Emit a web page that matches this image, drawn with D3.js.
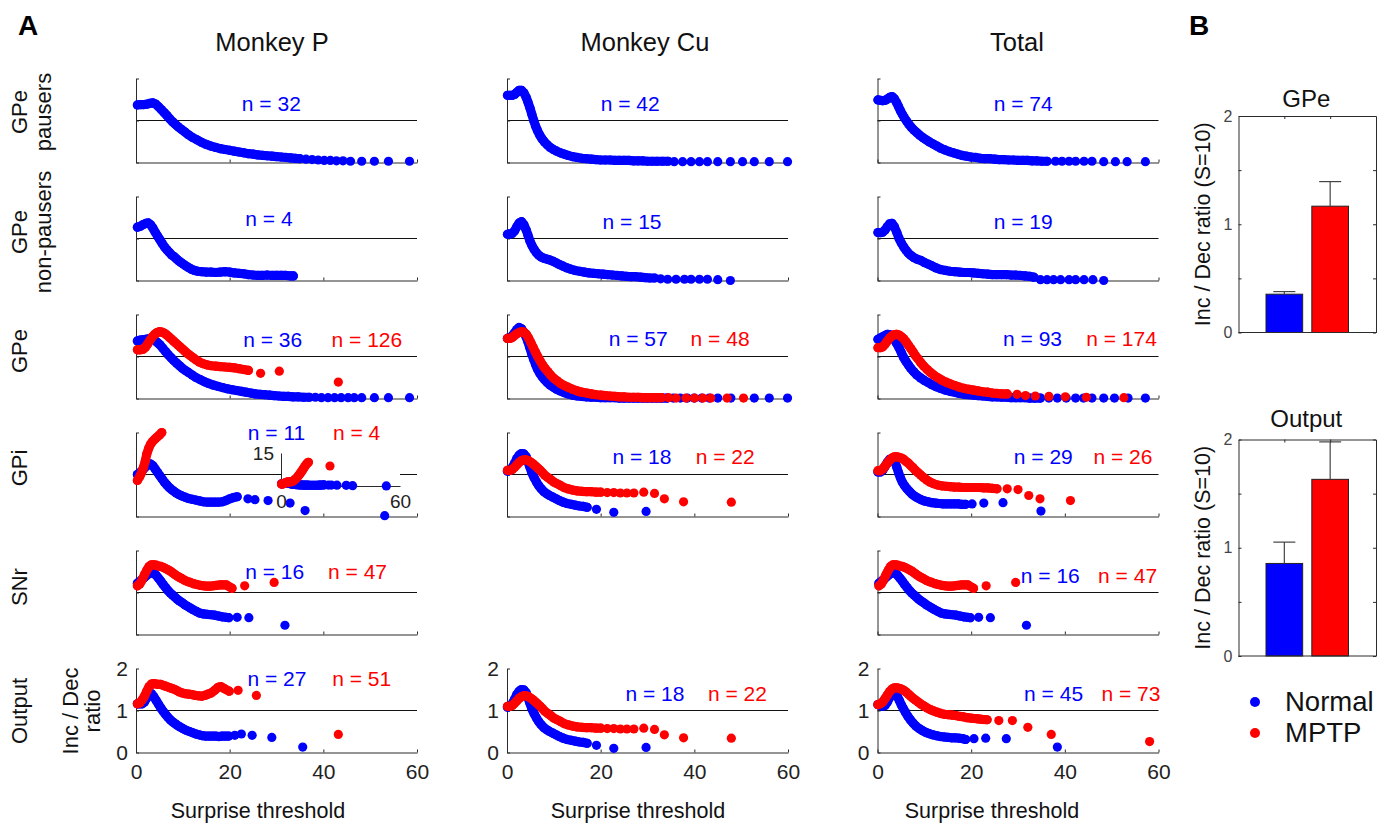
<!DOCTYPE html>
<html>
<head>
<meta charset="utf-8">
<script src="https://cdn.jsdelivr.net/npm/d3@7"></script>
<style>
  body { margin: 0; background: #fff; }
  text { font-family: "Liberation Sans", Arial, Helvetica, sans-serif; }
</style>
</head>
<body>
<svg id="fig" width="1393" height="827"></svg>
<script>
// ---- labels ----
const columnTitles = ["Monkey P", "Monkey Cu", "Total"];
const rowLabels = [["GPe", "pausers"], ["GPe", "non-pausers"], ["GPe"], ["GPi"], ["SNr"], ["Output"]];
const xTicks = [0, 20, 40, 60];
const yTicks = [0, 1, 2];
const groups = ["Normal", "MPTP"];

// ---- panel A series: [surprise threshold, inc/dec ratio] ----
const pPausersNormal = [[0.3,1.37],[1,1.38],[1.7,1.38],[2.4,1.39],[3,1.41],[3.6,1.42],[4.2,1.39],[4.8,1.33],[5.4,1.26],[6,1.19],[6.6,1.12],[7.2,1.04],[7.8,0.97],[8.4,0.91],[9,0.85],[9.7,0.79],[10.4,0.73],[11.2,0.66],[12,0.6],[13,0.54],[14,0.48],[15,0.43],[16,0.39],[17,0.36],[18,0.33],[19,0.31],[20,0.29],[21,0.27],[22,0.25],[23,0.23],[24,0.21],[25,0.2],[26,0.18],[27,0.17],[28,0.16],[29,0.15],[30,0.14],[31,0.13],[32,0.12],[33,0.11],[34,0.1],[35,0.09],[36.3,0.08],[37.6,0.07],[38.9,0.06],[40.2,0.05],[41.5,0.05],[42.8,0.04],[44.2,0.04],[45.8,0.03],[48.2,0.03],[50.9,0.03],[53.9,0.03],[58.4,0.03]];
const pNonPausersNormal = [[0.3,1.27],[0.9,1.29],[1.5,1.33],[2.1,1.36],[2.6,1.37],[3.1,1.33],[3.6,1.25],[4.1,1.15],[4.6,1.06],[5.1,0.97],[5.6,0.88],[6.1,0.8],[6.6,0.73],[7.1,0.67],[7.6,0.61],[8.1,0.57],[8.6,0.52],[9.1,0.47],[9.6,0.43],[10.1,0.39],[10.6,0.35],[11.2,0.31],[11.8,0.27],[12.5,0.24],[13.2,0.22],[14,0.21],[15,0.2],[16,0.2],[17,0.19],[18,0.2],[19,0.21],[20,0.2],[21,0.18],[22,0.17],[23,0.16],[24,0.14],[25,0.13],[26,0.12],[27,0.12],[28,0.13],[29,0.12],[30,0.12],[31,0.12],[32,0.12],[33,0.11],[33.6,0.11]];
const pGPeNormal = [[0.3,1.37],[0.9,1.39],[1.5,1.4],[2.1,1.41],[2.7,1.42],[3.3,1.42],[3.9,1.39],[4.5,1.34],[5.1,1.28],[5.7,1.2],[6.3,1.12],[6.9,1.04],[7.5,0.97],[8.1,0.9],[8.7,0.84],[9.3,0.78],[9.9,0.72],[10.5,0.67],[11.2,0.62],[12,0.56],[12.8,0.5],[13.7,0.45],[14.6,0.4],[15.5,0.36],[16.5,0.32],[17.5,0.29],[18.5,0.26],[19.5,0.23],[20.5,0.21],[21.5,0.19],[22.5,0.17],[23.5,0.15],[24.5,0.13],[25.5,0.11],[26.5,0.1],[27.5,0.09],[28.5,0.08],[29.5,0.07],[30.5,0.06],[31.5,0.05],[32.5,0.05],[33.5,0.04],[34.6,0.04],[35.8,0.03],[37,0.03],[38.3,0.03],[39.6,0.02],[41,0.02],[42.4,0.02],[43.8,0.02],[45.3,0.02],[46.6,0.02],[48.2,0.02],[50.9,0.02],[53.9,0.02],[58.4,0.02]];
const pGPeMPTP = [[0.3,1.16],[0.9,1.16],[1.5,1.17],[2,1.22],[2.5,1.3],[3,1.39],[3.5,1.47],[4,1.53],[4.5,1.57],[5,1.59],[5.5,1.58],[6,1.56],[6.5,1.52],[7,1.47],[7.5,1.42],[8,1.37],[8.5,1.32],[9,1.27],[9.5,1.22],[10,1.17],[10.5,1.12],[11,1.07],[11.6,1.02],[12.2,0.97],[12.8,0.92],[13.5,0.87],[14.3,0.83],[15.2,0.8],[16.1,0.78],[17,0.77],[18,0.76],[19,0.75],[20,0.74],[21,0.73],[22,0.71],[23,0.69],[24,0.67],[26.6,0.6],[30.6,0.65],[43.2,0.39]];
const pGPiNormal = [[0.3,1.0],[0.9,1.05],[1.5,1.12],[2.1,1.19],[2.6,1.23],[3.1,1.25],[3.6,1.21],[4.1,1.13],[4.6,1.05],[5.1,0.97],[5.6,0.89],[6.1,0.81],[6.6,0.75],[7.1,0.69],[7.6,0.64],[8.1,0.6],[8.6,0.56],[9.2,0.52],[9.8,0.49],[10.5,0.46],[11.2,0.43],[12,0.41],[12.8,0.39],[13.6,0.37],[14.4,0.35],[15.2,0.34],[16,0.34],[16.8,0.34],[17.6,0.34],[18.4,0.35],[19.2,0.38],[20,0.42],[20.8,0.45],[21.6,0.47],[23.9,0.42],[25.4,0.4],[28.2,0.38],[32.9,0.32],[36.1,0.14],[53.1,0.02]];
const pGPiMPTP = [[0.3,0.86],[0.8,0.95],[1.2,1.05],[1.6,1.17],[2,1.33],[2.3,1.49],[2.7,1.62],[3.1,1.72],[3.5,1.78],[4,1.84],[4.5,1.89],[5,1.94],[5.5,2.0],[6.2,2.3],[6.9,2.8],[7.6,3.4],[8.3,4.1],[9,4.9],[9.7,5.7],[10.4,6.6],[11.1,7.6],[11.8,8.6],[12.5,9.5],[13.2,10.3],[13.8,10.8],[24.7,9.1]];
const pSNrNormal = [[0.3,1.22],[0.8,1.26],[1.3,1.31],[1.8,1.36],[2.3,1.41],[2.8,1.45],[3.3,1.47],[3.8,1.46],[4.3,1.41],[4.8,1.34],[5.3,1.27],[5.8,1.19],[6.3,1.12],[6.8,1.05],[7.3,0.99],[7.8,0.94],[8.3,0.89],[8.8,0.84],[9.3,0.8],[9.8,0.76],[10.4,0.71],[11,0.67],[11.6,0.63],[12.2,0.59],[12.9,0.55],[13.6,0.51],[14.4,0.49],[15.2,0.48],[16,0.47],[16.8,0.46],[17.6,0.44],[18.4,0.42],[19.2,0.41],[19.8,0.4],[21.6,0.41],[24.1,0.4],[31.8,0.22]];
const pSNrMPTP = [[0.3,1.16],[0.8,1.2],[1.3,1.3],[1.8,1.42],[2.3,1.53],[2.8,1.62],[3.3,1.66],[3.8,1.66],[4.3,1.65],[4.8,1.63],[5.3,1.62],[5.8,1.6],[6.3,1.57],[6.8,1.54],[7.3,1.51],[7.8,1.47],[8.3,1.43],[8.8,1.39],[9.3,1.36],[9.8,1.33],[10.4,1.29],[11,1.26],[11.6,1.24],[12.3,1.21],[13,1.19],[13.7,1.17],[14.4,1.16],[15.1,1.15],[15.8,1.15],[16.5,1.16],[17.2,1.17],[17.9,1.18],[18.6,1.18],[19.3,1.18],[20.5,1.1],[23.2,1.16],[29.5,1.24]];
const pOutputNormal = [[0.3,1.16],[0.8,1.16],[1.3,1.16],[1.8,1.2],[2.3,1.3],[2.8,1.37],[3.3,1.4],[3.8,1.33],[4.3,1.24],[4.8,1.15],[5.3,1.06],[5.8,0.98],[6.3,0.91],[6.8,0.84],[7.3,0.78],[7.8,0.73],[8.3,0.69],[8.8,0.65],[9.4,0.61],[10,0.57],[10.7,0.53],[11.4,0.5],[12.1,0.47],[12.8,0.44],[13.5,0.42],[14.2,0.4],[14.9,0.39],[15.6,0.39],[16.3,0.39],[17,0.39],[17.7,0.38],[18.4,0.39],[19.1,0.39],[19.8,0.39],[21.1,0.41],[22.5,0.44],[24.8,0.41],[29,0.36],[35.6,0.13]];
const pOutputMPTP = [[0.3,1.16],[0.8,1.18],[1.3,1.25],[1.8,1.34],[2.3,1.46],[2.8,1.57],[3.3,1.63],[3.8,1.64],[4.3,1.63],[4.8,1.62],[5.3,1.62],[5.8,1.6],[6.3,1.58],[6.8,1.56],[7.3,1.54],[7.8,1.52],[8.3,1.5],[8.8,1.47],[9.3,1.44],[9.8,1.42],[10.5,1.4],[11.2,1.39],[11.9,1.38],[12.6,1.36],[13.3,1.35],[14,1.34],[14.7,1.36],[15.4,1.39],[16.1,1.42],[16.8,1.48],[17.5,1.55],[18.1,1.57],[18.9,1.52],[19.9,1.46],[21.8,1.48],[25.7,1.36],[43.2,0.43]];

const cuPausersNormal = [[0.1,1.6],[0.6,1.6],[1.1,1.6],[1.6,1.62],[2.1,1.67],[2.6,1.72],[3.1,1.72],[3.6,1.66],[4.1,1.55],[4.5,1.43],[4.9,1.3],[5.3,1.15],[5.7,1.0],[6.1,0.87],[6.5,0.76],[7,0.65],[7.5,0.56],[8,0.49],[8.6,0.42],[9.2,0.36],[9.9,0.31],[10.6,0.27],[11.4,0.23],[12.2,0.2],[13,0.17],[14,0.14],[15,0.12],[16,0.1],[17,0.09],[18,0.08],[19,0.07],[20,0.06],[21,0.06],[22,0.06],[23,0.05],[24,0.05],[25,0.05],[26,0.05],[27,0.04],[28,0.04],[29,0.04],[30,0.03],[31,0.03],[32,0.03],[33.2,0.03],[34.4,0.03],[35.7,0.02],[37.5,0.02],[39.3,0.02],[41.1,0.02],[42.8,0.02],[45,0.02],[47.7,0.02],[50.3,0.02],[52.8,0.02],[56,0.02],[59.9,0.02]];
const cuNonPausersNormal = [[0.1,1.1],[0.6,1.11],[1.1,1.12],[1.6,1.18],[2.1,1.28],[2.6,1.37],[3.1,1.4],[3.6,1.33],[4.1,1.2],[4.5,1.07],[4.9,0.94],[5.3,0.84],[5.8,0.74],[6.3,0.66],[6.8,0.6],[7.3,0.56],[7.9,0.53],[8.5,0.51],[9.1,0.49],[9.8,0.46],[10.5,0.42],[11.2,0.38],[12,0.34],[12.8,0.3],[13.6,0.27],[14.5,0.24],[15.5,0.22],[16.5,0.2],[17.5,0.18],[18.5,0.17],[19.5,0.16],[20.5,0.15],[21.5,0.14],[22.5,0.13],[23.5,0.12],[24.5,0.11],[25.5,0.1],[26.5,0.09],[27.5,0.09],[28.5,0.08],[29.5,0.07],[30.5,0.06],[31.5,0.06],[32.8,0.04],[34.3,0.03],[36.1,0.03],[37.9,0.03],[39.3,0.03],[41.1,0.03],[42.8,0.03],[45,0.02],[47.7,0.0]];
const cuGPeNormal = [[0.1,1.43],[0.6,1.45],[1.1,1.49],[1.6,1.56],[2.1,1.64],[2.6,1.69],[3.1,1.66],[3.6,1.58],[4.1,1.46],[4.5,1.34],[4.9,1.2],[5.3,1.06],[5.7,0.93],[6.1,0.81],[6.5,0.7],[7,0.6],[7.5,0.52],[8,0.45],[8.6,0.38],[9.2,0.32],[9.9,0.27],[10.6,0.22],[11.4,0.18],[12.2,0.14],[13,0.11],[14,0.08],[15,0.06],[16,0.05],[17,0.04],[18,0.03],[19,0.03],[20,0.02],[21,0.02],[22,0.02],[23,0.02],[24,0.01],[25,0.01],[26,0.01],[27,0.01],[28,0.01],[29,0.01],[30,0.01],[31,0.01],[32,0.01],[33,0.01],[34.2,0.01],[35.5,0.01],[37,0.01],[38.5,0.01],[40,0.01],[41.6,0.01],[43.2,0.01],[45,0.01],[47.8,0.01],[52.8,0.01],[56,0.01],[59.9,0.01]];
const cuGPeMPTP = [[0.1,1.43],[0.6,1.43],[1.1,1.45],[1.6,1.5],[2.1,1.54],[2.6,1.57],[3.1,1.59],[3.6,1.58],[4.1,1.53],[4.6,1.44],[5.1,1.33],[5.6,1.21],[6.1,1.1],[6.6,0.99],[7.1,0.89],[7.6,0.8],[8.1,0.72],[8.7,0.64],[9.3,0.56],[10,0.48],[10.7,0.42],[11.4,0.36],[12.2,0.31],[13,0.27],[14,0.22],[15,0.18],[16,0.15],[17,0.13],[18,0.11],[19,0.09],[20,0.08],[21,0.07],[22,0.06],[23,0.05],[24,0.04],[25,0.04],[26,0.03],[27,0.03],[28,0.03],[29,0.02],[30,0.02],[31,0.02],[32,0.02],[33,0.02],[34.5,0.02],[36.1,0.01],[38.2,0.01],[40,0.01],[41.8,0.01],[43.5,0.01],[47,0.01],[50.5,0.01]];
const cuGPiNormal = [[0.1,1.08],[0.6,1.1],[1.1,1.16],[1.6,1.26],[2.1,1.38],[2.6,1.46],[3.1,1.5],[3.6,1.49],[4.1,1.42],[4.5,1.3],[4.9,1.17],[5.3,1.04],[5.8,0.92],[6.3,0.82],[6.8,0.73],[7.3,0.66],[7.9,0.59],[8.5,0.54],[9.1,0.5],[9.8,0.46],[10.5,0.42],[11.2,0.38],[12,0.34],[12.8,0.31],[13.7,0.29],[14.6,0.27],[15.5,0.25],[16.3,0.24],[17.1,0.22],[19.1,0.17],[22.8,0.1],[29.7,0.12]];
const cuGPiMPTP = [[0.1,1.1],[0.6,1.1],[1.1,1.12],[1.6,1.17],[2.1,1.23],[2.6,1.29],[3.1,1.33],[3.6,1.35],[4.1,1.35],[4.6,1.33],[5.1,1.29],[5.6,1.25],[6.1,1.2],[6.6,1.15],[7.1,1.1],[7.6,1.04],[8.1,0.98],[8.7,0.93],[9.3,0.88],[10,0.82],[10.7,0.78],[11.4,0.74],[12.2,0.69],[13,0.66],[14,0.63],[15,0.61],[16,0.6],[17,0.59],[18,0.59],[19,0.58],[20,0.58],[21.4,0.57],[22.8,0.57],[24.2,0.56],[25.6,0.56],[27.1,0.56],[29.2,0.58],[31.5,0.55],[33.6,0.42],[37.7,0.35],[47.9,0.34]];

const totPausersNormal = [[0.1,1.49],[0.6,1.48],[1.1,1.47],[1.6,1.48],[2.1,1.51],[2.6,1.55],[3.1,1.57],[3.6,1.52],[4.1,1.42],[4.5,1.33],[4.9,1.23],[5.3,1.15],[5.7,1.07],[6.2,0.99],[6.7,0.91],[7.2,0.84],[7.8,0.77],[8.4,0.71],[9,0.65],[9.7,0.59],[10.4,0.54],[11.1,0.49],[11.9,0.44],[12.7,0.39],[13.5,0.34],[14.4,0.3],[15.3,0.26],[16.2,0.23],[17.1,0.2],[18,0.17],[19,0.15],[20,0.13],[21,0.12],[22,0.1],[23,0.09],[24,0.09],[25,0.08],[26,0.07],[27,0.07],[28,0.06],[29,0.06],[30,0.05],[31,0.05],[32,0.05],[33,0.04],[34,0.04],[35.1,0.03],[36.2,0.03],[38,0.03],[39.4,0.03],[40.9,0.03],[42.3,0.03],[44.1,0.03],[45.8,0.03],[48.3,0.02],[50.8,0.02],[53.3,0.02],[57.2,0.02]];
const totNonPausersNormal = [[0.1,1.14],[0.6,1.14],[1.1,1.15],[1.6,1.2],[2.1,1.28],[2.6,1.35],[3.1,1.36],[3.6,1.28],[4.1,1.15],[4.6,1.0],[5.1,0.89],[5.6,0.8],[6.1,0.72],[6.6,0.65],[7.1,0.6],[7.7,0.55],[8.4,0.51],[9.2,0.48],[10,0.43],[10.8,0.39],[11.6,0.35],[12.5,0.3],[13.5,0.26],[14.5,0.24],[15.5,0.22],[16.5,0.21],[17.5,0.2],[18.5,0.19],[19.5,0.19],[20.5,0.18],[21.5,0.17],[22.5,0.16],[23.5,0.15],[24.5,0.14],[25.5,0.14],[26.5,0.14],[27.5,0.14],[28.5,0.13],[29.5,0.13],[30.5,0.12],[31.5,0.11],[32.5,0.1],[33.4,0.08],[34.8,0.02],[36.2,0.02],[37.6,0.02],[39.1,0.02],[40.9,0.02],[42.3,0.02],[44.1,0.02],[46,0.02],[48.3,0.0]];
const totGPeNormal = [[0.1,1.41],[0.6,1.44],[1.1,1.47],[1.6,1.5],[2.1,1.53],[2.6,1.52],[3.1,1.47],[3.6,1.4],[4.1,1.31],[4.6,1.21],[5.1,1.09],[5.6,0.97],[6.1,0.88],[6.6,0.8],[7.1,0.72],[7.7,0.64],[8.4,0.56],[9.2,0.49],[10,0.43],[10.8,0.38],[11.6,0.33],[12.5,0.28],[13.5,0.24],[14.5,0.2],[15.5,0.17],[16.5,0.15],[17.5,0.12],[18.5,0.1],[19.5,0.09],[20.5,0.08],[21.5,0.07],[22.5,0.06],[23.5,0.05],[24.5,0.04],[25.5,0.04],[26.5,0.03],[27.5,0.03],[28.5,0.02],[29.5,0.02],[30.5,0.02],[31.5,0.02],[32.5,0.01],[33.6,0.01],[34.8,0.01],[36.6,0.01],[38.4,0.01],[40.3,0.01],[42.3,0.01],[44,0.01],[45.8,0.01],[48.3,0.01],[50.6,0.01],[53.5,0.01],[57.2,0.01]];
const totGPeMPTP = [[0.1,1.21],[0.6,1.21],[1.1,1.23],[1.6,1.29],[2.1,1.37],[2.6,1.44],[3.1,1.49],[3.6,1.52],[4.1,1.53],[4.6,1.51],[5.1,1.47],[5.6,1.42],[6.1,1.35],[6.6,1.27],[7.1,1.19],[7.6,1.11],[8.1,1.02],[8.6,0.95],[9.2,0.86],[9.9,0.77],[10.6,0.69],[11.3,0.62],[12,0.56],[12.8,0.5],[13.7,0.44],[14.6,0.39],[15.5,0.35],[16.5,0.31],[17.5,0.27],[18.5,0.24],[19.5,0.22],[20.5,0.2],[21.5,0.18],[22.5,0.16],[23.5,0.15],[24.5,0.13],[25.5,0.12],[26.5,0.11],[27.7,0.11],[29.8,0.1],[31.6,0.07],[33.7,0.06],[36.6,0.05],[40.1,0.04],[44.6,0.03],[52.6,0.02]];
const totGPiNormal = [[0.1,1.06],[0.6,1.06],[1.1,1.1],[1.6,1.19],[2.1,1.29],[2.6,1.36],[3.1,1.38],[3.6,1.33],[4.1,1.18],[4.5,1.04],[4.9,0.92],[5.3,0.82],[5.8,0.73],[6.3,0.66],[6.8,0.6],[7.4,0.53],[8,0.48],[8.6,0.44],[9.3,0.4],[10,0.37],[10.8,0.35],[11.6,0.33],[12.4,0.32],[13.2,0.31],[14,0.3],[14.8,0.3],[15.6,0.3],[16.4,0.3],[17.2,0.3],[18,0.29],[18.8,0.29],[20.2,0.3],[22.7,0.32],[26.8,0.33],[34.9,0.13]];
const totGPiMPTP = [[0.1,1.09],[0.6,1.09],[1.1,1.13],[1.6,1.2],[2.1,1.27],[2.6,1.34],[3.1,1.39],[3.6,1.42],[4.1,1.42],[4.6,1.41],[5.1,1.39],[5.6,1.36],[6.1,1.31],[6.6,1.27],[7.1,1.21],[7.6,1.16],[8.1,1.1],[8.6,1.05],[9.2,0.99],[9.8,0.93],[10.5,0.87],[11.2,0.82],[12,0.78],[12.8,0.75],[13.7,0.73],[14.6,0.72],[15.5,0.71],[16.4,0.7],[17.3,0.7],[18.2,0.69],[19.1,0.69],[20,0.69],[20.9,0.69],[21.8,0.69],[22.7,0.68],[23.6,0.68],[24.5,0.67],[25.5,0.66],[27.7,0.66],[30,0.64],[32.3,0.5],[34.7,0.42],[41.2,0.38]];
const totOutputNormal = [[0.1,1.14],[0.6,1.12],[1.1,1.1],[1.6,1.12],[2.1,1.2],[2.6,1.31],[3.1,1.39],[3.5,1.42],[3.9,1.39],[4.3,1.32],[4.7,1.23],[5.1,1.13],[5.5,1.05],[6,0.95],[6.5,0.86],[7,0.78],[7.6,0.7],[8.2,0.63],[8.9,0.57],[9.6,0.52],[10.3,0.48],[11,0.45],[11.8,0.42],[12.6,0.4],[13.4,0.38],[14.2,0.37],[15,0.36],[15.8,0.35],[16.6,0.35],[17.4,0.34],[18.2,0.33],[18.8,0.31],[20.6,0.33],[23.1,0.34],[27.5,0.33],[38.4,0.13]];
const totOutputMPTP = [[0.1,1.14],[0.6,1.16],[1.1,1.2],[1.6,1.28],[2.1,1.37],[2.6,1.45],[3.1,1.51],[3.6,1.54],[4.1,1.54],[4.6,1.53],[5.1,1.51],[5.6,1.48],[6.1,1.44],[6.6,1.39],[7.1,1.34],[7.6,1.29],[8.1,1.25],[8.7,1.2],[9.3,1.15],[9.9,1.11],[10.6,1.06],[11.3,1.02],[12,0.99],[12.7,0.96],[13.5,0.93],[14.3,0.91],[15.1,0.9],[15.9,0.89],[16.7,0.88],[17.5,0.86],[18.3,0.85],[19.1,0.83],[19.9,0.82],[20.7,0.81],[21.5,0.8],[22.3,0.79],[23.4,0.78],[25.9,0.76],[28.8,0.76],[32.1,0.6],[37.1,0.43],[58.1,0.26]];

// ---- panel B ----
const gpeMean = [0.354, 1.167];
const gpeSem = [0.024, 0.227];
const outputMean = [0.855, 1.632];
const outputSem = [0.197, 0.346];

// ---- layout ----
const BLUE = "#0000ff", RED = "#ff0000", AXIS = "#2b2b2b";
const R = 4.6;
const colX = [136, 507, 877.5], plotW = 281;
const rowY = [78.5, 196.5, 314.5, 432.5, 550.5, 668.5], plotH = 84;

// each panel: column, row, series and where the n labels sit (data units)
const panels = [
  {col: 0, row: 0, normal: pPausersNormal, labels: [["n = 32", BLUE, 28.9, 1.41]]},
  {col: 0, row: 1, normal: pNonPausersNormal, labels: [["n = 4", BLUE, 28.4, 1.48]]},
  {col: 0, row: 2, normal: pGPeNormal, mptp: pGPeMPTP, labels: [["n = 36", BLUE, 29.2, 1.4], ["n = 126", RED, 49.3, 1.4]]},
  {col: 0, row: 3, normal: pGPiNormal, mptp: pGPiMPTP, inset: true, labels: [["n = 11", BLUE, 30, 1.99], ["n = 4", RED, 47.1, 1.99]]},
  {col: 0, row: 4, normal: pSNrNormal, mptp: pSNrMPTP, labels: [["n = 16", BLUE, 29.6, 1.5], ["n = 47", RED, 47.3, 1.5]]},
  {col: 0, row: 5, normal: pOutputNormal, mptp: pOutputMPTP, labels: [["n = 27", BLUE, 30.1, 1.77], ["n = 51", RED, 48.2, 1.77]]},
  {col: 1, row: 0, normal: cuPausersNormal, labels: [["n = 42", BLUE, 26.3, 1.41]]},
  {col: 1, row: 1, normal: cuNonPausersNormal, labels: [["n = 15", BLUE, 26.7, 1.4]]},
  {col: 1, row: 2, normal: cuGPeNormal, mptp: cuGPeMPTP, labels: [["n = 57", BLUE, 28, 1.42], ["n = 48", RED, 45.5, 1.42]]},
  {col: 1, row: 3, normal: cuGPiNormal, mptp: cuGPiMPTP, labels: [["n = 18", BLUE, 28.8, 1.42], ["n = 22", RED, 46.6, 1.42]]},
  {col: 1, row: 5, normal: cuGPiNormal, mptp: cuGPiMPTP, labels: [["n = 18", BLUE, 31.6, 1.41], ["n = 22", RED, 49.2, 1.41]]},
  {col: 2, row: 0, normal: totPausersNormal, labels: [["n = 74", BLUE, 31.1, 1.41]]},
  {col: 2, row: 1, normal: totNonPausersNormal, labels: [["n = 19", BLUE, 31.1, 1.4]]},
  {col: 2, row: 2, normal: totGPeNormal, mptp: totGPeMPTP, labels: [["n = 93", BLUE, 33.1, 1.42], ["n = 174", RED, 52.1, 1.42]]},
  {col: 2, row: 3, normal: totGPiNormal, mptp: totGPiMPTP, labels: [["n = 29", BLUE, 35.4, 1.42], ["n = 26", RED, 52.4, 1.42]]},
  {col: 2, row: 4, normal: pSNrNormal, mptp: pSNrMPTP, labels: [["n = 16", BLUE, 36.9, 1.4], ["n = 47", RED, 53.4, 1.4]]},
  {col: 2, row: 5, normal: totOutputNormal, mptp: totOutputMPTP, labels: [["n = 45", BLUE, 37.6, 1.4], ["n = 73", RED, 54.1, 1.4]]}
];

const svg = d3.select("#fig");

// dense runs are drawn as a thick stroke under the dots so the band looks solid
const drawSeries = (g, data, x, y, color, keep) => {
  const pts = data.filter(keep);
  const runs = [];
  pts.forEach((d, i) => {
    if (i > 0 && d[0] - pts[i - 1][0] <= 1.25) runs[runs.length - 1].push(d);
    else runs.push([d]);
  });
  const line = d3.line().x(d => x(d[0])).y(d => y(d[1]));
  g.append("g").selectAll("path")
    .data(runs.filter(r => r.length > 1))
    .join("path")
      .attr("d", line)
      .attr("fill", "none")
      .attr("stroke", color)
      .attr("stroke-width", 2 * R)
      .attr("stroke-linecap", "round")
      .attr("stroke-linejoin", "round");
  g.append("g").selectAll("circle")
    .data(pts)
    .join("circle")
      .attr("cx", d => x(d[0]))
      .attr("cy", d => y(d[1]))
      .attr("r", R)
      .attr("fill", color);
};

const styleAxis = (sel, size) => {
  sel.select(".domain").attr("stroke", AXIS);
  sel.selectAll(".tick line").attr("stroke", AXIS);
  sel.selectAll(".tick text").attr("fill", "#222").attr("font-size", size)
    .attr("font-family", "'Liberation Sans', Arial, sans-serif");
};

panels.forEach(p => {
  const g = svg.append("g").attr("transform", `translate(${colX[p.col]},${rowY[p.row]})`);
  const x = d3.scaleLinear().domain([0, 60]).range([0, plotW]);
  const y = d3.scaleLinear().domain([0, 2]).range([plotH, 0]);
  const bottom = p.row === 5;

  g.append("line")
    .attr("x1", x(0)).attr("x2", x(60))
    .attr("y1", y(1)).attr("y2", y(1))
    .attr("stroke", "#111").attr("stroke-width", 1);

  const xa = g.append("g").attr("transform", `translate(0,${plotH})`)
    .call(d3.axisBottom(x).tickValues(xTicks).tickSizeInner(-3).tickSizeOuter(0)
      .tickPadding(12).tickFormat(bottom ? d3.format("d") : () => ""));
  styleAxis(xa, 21);
  const ya = g.append("g")
    .call(d3.axisLeft(y).tickValues(yTicks).tickSizeInner(-3).tickSizeOuter(0)
      .tickPadding(8).tickFormat(bottom ? d3.format("d") : () => ""));
  styleAxis(ya, 21);

  const inRange = d => d[1] <= 2.02 && d[1] >= -0.02;
  drawSeries(g, p.normal, x, y, BLUE, inRange);
  if (p.mptp) drawSeries(g, p.mptp, x, y, RED, inRange);

  if (p.inset) {
    // small inset with a 0-15 scale for the off-scale MPTP curve
    const ix0 = 281 - colX[p.col], iy0 = 453 - rowY[p.row], iw = 119, ih = 33;
    const ig = g.append("g").attr("transform", `translate(${ix0},${iy0})`);
    ig.append("rect").attr("x", 0).attr("y", -2).attr("width", iw).attr("height", ih + 3).attr("fill", "#fff");
    const ix = d3.scaleLinear().domain([0, 60]).range([0, iw]);
    const iy = d3.scaleLinear().domain([0, 15]).range([ih, 0]);
    const ixa = ig.append("g").attr("transform", `translate(0,${ih})`)
      .call(d3.axisBottom(ix).tickValues([0, 60]).tickSize(0).tickPadding(9).tickFormat(d3.format("d")));
    styleAxis(ixa, 19);
    const iya = ig.append("g")
      .call(d3.axisLeft(iy).tickValues([15]).tickSize(0).tickPadding(7).tickFormat(d3.format("d")));
    styleAxis(iya, 19);
    const all = () => true;
    drawSeries(ig, p.normal, ix, iy, BLUE, all);
    drawSeries(ig, p.mptp, ix, iy, RED, all);
  }

  g.selectAll(".nlab")
    .data(p.labels)
    .join("text")
      .attr("class", "nlab")
      .attr("x", d => x(d[2]))
      .attr("y", d => y(d[3]))
      .attr("dy", "0.36em")
      .attr("text-anchor", "middle")
      .attr("font-size", 21)
      .attr("fill", d => d[1])
      .text(d => d[0]);
});

// column titles and x labels
const titleX = [272, 645, 1017];
const xlabelX = [258, 638, 992];
svg.selectAll(".ctitle").data(columnTitles).join("text")
  .attr("x", (d, i) => titleX[i]).attr("y", 51)
  .attr("text-anchor", "middle").attr("font-size", 25.5).attr("fill", "#111")
  .text(d => d);
svg.selectAll(".xlab").data(columnTitles).join("text")
  .attr("x", (d, i) => xlabelX[i]).attr("y", 818)
  .attr("text-anchor", "middle").attr("font-size", 21.5).attr("fill", "#111")
  .text("Surprise threshold");

// row labels (rotated)
const rowLabelY = [112, 232, 351, 468, 587, 711];
const lineX = [27, 51];
rowLabels.forEach((lines, r) => {
  lines.forEach((t, k) => {
    svg.append("text")
      .attr("transform", `translate(${lineX[k]},${rowLabelY[r]}) rotate(-90)`)
      .attr("text-anchor", "middle").attr("font-size", 22).attr("fill", "#111")
      .text(t);
  });
});
[["Inc / Dec", 78], ["ratio", 100]].forEach(([t, bx]) => {
  svg.append("text")
    .attr("transform", `translate(${bx},711) rotate(-90)`)
    .attr("text-anchor", "middle").attr("font-size", 22).attr("fill", "#111")
    .text(t);
});

// panel letters
svg.append("text").attr("x", 18).attr("y", 35).attr("font-size", 28).attr("font-weight", "bold").text("A");
svg.append("text").attr("x", 1189).attr("y", 35).attr("font-size", 28).attr("font-weight", "bold").text("B");

// ---- panel B bar charts ----
const barCharts = [
  {title: "GPe", mean: gpeMean, sem: gpeSem, top: 116, titleY: 107},
  {title: "Output", mean: outputMean, sem: outputSem, top: 439.5, titleY: 427}
];
const bx0 = 1238.5, bw = 137.5, bh = 216.5;
barCharts.forEach(c => {
  const g = svg.append("g").attr("transform", `translate(${bx0},${c.top})`);
  const x = d3.scaleLinear().domain([0, 3]).range([0, bw]);
  const y = d3.scaleLinear().domain([0, 2]).range([bh, 0]);
  const halfW = (x(1) - x(0)) * 0.4;

  g.selectAll("rect.bar").data(c.mean).join("rect")
    .attr("class", "bar")
    .attr("x", (d, i) => x(i + 1) - halfW)
    .attr("width", 2 * halfW)
    .attr("y", d => y(d))
    .attr("height", d => y(0) - y(d))
    .attr("fill", (d, i) => i === 0 ? BLUE : RED)
    .attr("stroke", "#222").attr("stroke-width", 1);

  const err = c.mean.map((m, i) => [i + 1, m, m + c.sem[i]]);
  g.selectAll("line.err").data(err).join("line")
    .attr("class", "err")
    .attr("x1", d => x(d[0])).attr("x2", d => x(d[0]))
    .attr("y1", d => y(d[1])).attr("y2", d => y(d[2]))
    .attr("stroke", "#444").attr("stroke-width", 1.2);
  g.selectAll("line.cap").data(err).join("line")
    .attr("class", "cap")
    .attr("x1", d => x(d[0]) - 11).attr("x2", d => x(d[0]) + 11)
    .attr("y1", d => y(d[2])).attr("y2", d => y(d[2]))
    .attr("stroke", "#444").attr("stroke-width", 1.2);

  const yl = g.append("g").call(d3.axisLeft(y).tickValues([0, 0.5, 1, 1.5, 2])
    .tickSizeInner(-3).tickSizeOuter(0).tickPadding(6)
    .tickFormat(d => Number.isInteger(d) ? d : ""));
  styleAxis(yl, 16);
  yl.selectAll(".tick text").attr("fill", "#444");
  const yr = g.append("g").attr("transform", `translate(${bw},0)`)
    .call(d3.axisRight(y).tickValues([0, 0.5, 1, 1.5, 2]).tickSizeInner(-3).tickSizeOuter(0).tickFormat(() => ""));
  styleAxis(yr, 16);
  const xt = g.append("g").call(d3.axisTop(x).tickValues([1, 2]).tickSizeInner(-3).tickSizeOuter(0).tickFormat(() => ""));
  styleAxis(xt, 16);
  g.append("line").attr("x1", 0).attr("x2", bw).attr("y1", bh).attr("y2", bh).attr("stroke", AXIS);

  svg.append("text").attr("x", bx0 + bw / 2 - 1).attr("y", c.titleY)
    .attr("text-anchor", "middle").attr("font-size", 24).attr("fill", "#111").text(c.title);
  svg.append("text")
    .attr("transform", `translate(1210,${c.top + bh / 2}) rotate(-90)`)
    .attr("text-anchor", "middle").attr("font-size", 21.5).attr("fill", "#111")
    .text("Inc / Dec ratio (S=10)");
});

// legend
const legY = [702, 733];
svg.selectAll(".legdot").data(groups).join("circle")
  .attr("cx", 1255).attr("cy", (d, i) => legY[i]).attr("r", 5)
  .attr("fill", (d, i) => i === 0 ? BLUE : RED);
svg.selectAll(".legtext").data(groups).join("text")
  .attr("x", 1285).attr("y", (d, i) => legY[i] + 9)
  .attr("font-size", 27.5).attr("fill", "#111")
  .text(d => d);
</script>
</body>
</html>
